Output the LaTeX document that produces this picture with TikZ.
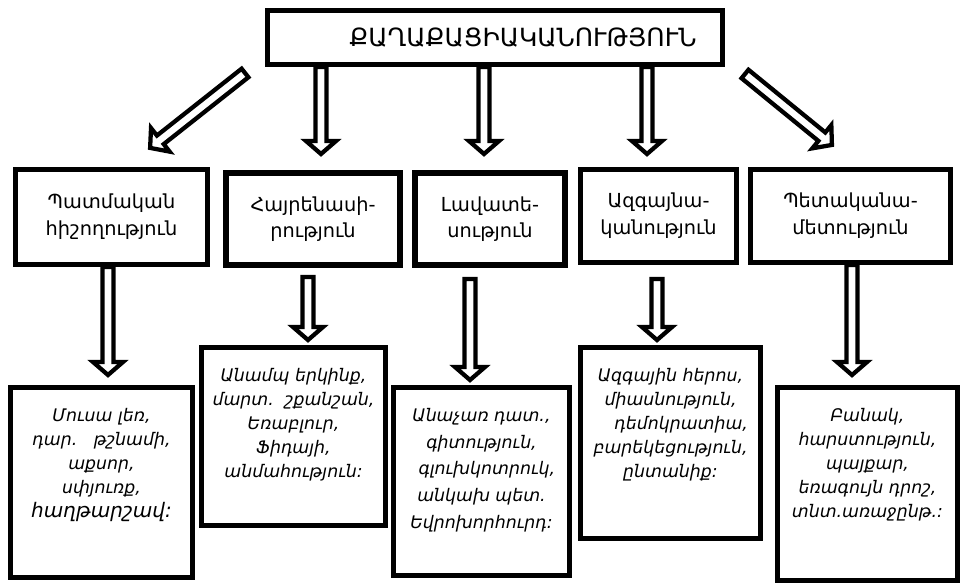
\documentclass[tikz,border=0pt]{standalone}
\usepackage{fontspec}
\setmainfont{DejaVu Sans}
\usetikzlibrary{calc}
\tikzset{
  box/.style={draw, line width=3.9pt, inner sep=0pt, align=center},
  midbox/.style={box, font=\fontsize{14.5pt}{20pt}\selectfont},
  lowbox/.style={box},
  lowtext/.style={anchor=north, align=center, inner sep=0pt, font=\fontsize{13pt}{18pt}\selectfont\itshape},
  blockarr/.style={draw, line width=3.2pt, miter limit=10, line join=miter}
}
\newcommand{\blockarrow}[2]{%
  \path[blockarr] let \p1=(#1), \p2=(#2),
    \n1={atan2(\y2-\y1,\x2-\x1)}, \n2={veclen(\x2-\x1,\y2-\y1)} in
    [shift={(\p1)}, rotate=\n1]
    (0pt,-4.1pt) -- (\n2*1pt-9.75pt,-4.1pt) -- (\n2*1pt-9.75pt,-11.25pt) -- (\n2*1pt,0pt)
    -- (\n2*1pt-9.75pt,11.25pt) -- (\n2*1pt-9.75pt,4.1pt) -- (0pt,4.1pt) -- cycle;}
\begin{document}
\begin{tikzpicture}[x=0.75pt,y=-0.75pt]
\useasboundingbox (0,0) rectangle (969,584);
% top box
\node[box, minimum width=455*0.75pt, minimum height=54*0.75pt,
  font=\fontsize{18.8pt}{20pt}\selectfont] (top) at (495,37.5)
  {\hspace*{42pt}ՔԱՂԱՔԱՑԻԱԿԱՆՈՒԹՅՈՒՆ};
% second row
\node[midbox, minimum width=192*0.75pt, minimum height=95*0.75pt] (b1) at (111.5,217) {Պատմական\\հիշողություն};
\node[midbox, line width=4.6pt, minimum width=174*0.75pt, minimum height=92*0.75pt] (b2) at (313,219) {Հայրենասի-\\րություն};
\node[midbox, line width=4.6pt, minimum width=150*0.75pt, minimum height=92*0.75pt] (b3) at (490,219) {Լավատե-\\սություն};
\node[midbox, minimum width=156*0.75pt, minimum height=93*0.75pt] (b4) at (658.5,216) {Ազգայնա-\\կանություն};
\node[midbox, minimum width=200*0.75pt, minimum height=93*0.75pt] (b5) at (850.5,216) {Պետականա-\\մետություն};
% third row boxes
\node[lowbox, minimum width=182*0.75pt, minimum height=190*0.75pt] (c1) at (101.5,482.5) {};
\node[lowbox, minimum width=184*0.75pt, minimum height=178*0.75pt] (c2) at (293.5,436.5) {};
\node[lowbox, minimum width=176*0.75pt, minimum height=188*0.75pt] (c3) at (481.5,481.5) {};
\node[lowbox, minimum width=180*0.75pt, minimum height=191*0.75pt] (c4) at (670.5,443) {};
\node[lowbox, minimum width=180*0.75pt, minimum height=193*0.75pt] (c5) at (867.5,484) {};
% third row texts
\node[lowtext] (c1t) at ($(c1.north)+(0,23)$) {Մուսա լեռ,\\դար.\ \ \ թշնամի,\\աքսոր,\\սփյուռք,\\{\fontsize{15pt}{18pt}\selectfont հաղթարշավ:}};
\node[lowtext] (c2t) at ($(c2.north)+(0,23)$) {Անամպ երկինք,\\մարտ.\ \ շքանշան,\\Եռաբլուր,\\Ֆիդայի,\\անմահություն:};
\node[lowtext, font=\fontsize{13pt}{20pt}\selectfont\itshape] (c3t) at ($(c3.north)+(0,23)$) {Անաչառ դատ.,\\գիտություն,\\\hspace*{8pt}գլուխկոտրուկ,\\անկախ պետ.\\Եվրոխորհուրդ:};
\node[lowtext] (c4t) at ($(c4.north)+(0,23)$) {Ազգային հերոս,\\միասնություն,\\\hspace*{16pt}դեմոկրատիա,\\բարեկեցություն,\\ընտանիք:};
\node[lowtext] (c5t) at ($(c5.north)+(0,23)$) {Բանակ,\\հարստություն,\\պայքար,\\եռագույն դրոշ,\\տնտ.առաջընթ.:};
% arrow end points
\coordinate (a1s) at (245,73);  \coordinate (a1e) at (150,148);
\coordinate (a2e) at (321,154);
\coordinate (a3e) at (484,154);
\coordinate (a4e) at (647,154);
\coordinate (a5s) at (745,74);  \coordinate (a5e) at (832,145);
\coordinate (d1e) at (108,375);
\coordinate (d2s) at (308,277); \coordinate (d2e) at (308,340);
\coordinate (d3s) at (470,279); \coordinate (d3e) at (470,380);
\coordinate (d4s) at (657,279); \coordinate (d4e) at (657,340);
\coordinate (d5e) at (852,375);
% arrows top -> second row
\blockarrow{a1s}{a1e}
\blockarrow{top.south -| a2e}{a2e}
\blockarrow{top.south -| a3e}{a3e}
\blockarrow{top.south -| a4e}{a4e}
\blockarrow{a5s}{a5e}
% arrows second -> third row
\blockarrow{b1.south -| d1e}{d1e}
\blockarrow{d2s}{d2e}
\blockarrow{d3s}{d3e}
\blockarrow{d4s}{d4e}
\blockarrow{b5.south -| d5e}{d5e}
\end{tikzpicture}
\end{document}
